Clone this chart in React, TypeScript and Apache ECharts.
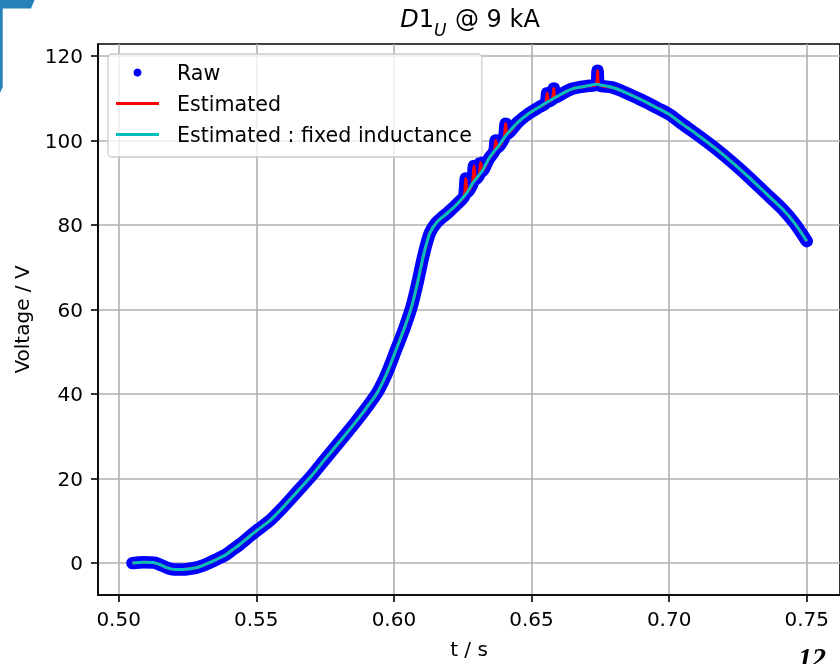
import React, { useEffect, useRef } from "react";
import * as echarts from "echarts";

// time axis (s)
const tValues = [
  0.505, 0.509, 0.513, 0.5155, 0.518, 0.5205, 0.5235, 0.528, 0.5305, 0.533, 0.536, 0.539, 0.5415, 0.544,
  0.5475, 0.55, 0.555, 0.56, 0.565, 0.57, 0.575, 0.581, 0.586, 0.59,
  0.594, 0.5975, 0.6005, 0.6037, 0.6065, 0.6086, 0.6104, 0.6118, 0.6132, 0.6155, 0.6175, 0.6194,
  0.623, 0.6255, 0.6261, 0.6267, 0.6285, 0.6291, 0.6297, 0.631, 0.6315, 0.6321,
  0.6345, 0.6365, 0.637, 0.6376, 0.64, 0.6406, 0.6412, 0.645, 0.649, 0.653,
  0.6552, 0.6557, 0.6562, 0.6576, 0.6581, 0.6586, 0.662, 0.665, 0.67, 0.6735,
  0.674, 0.6745, 0.6792, 0.684, 0.689, 0.6925, 0.696, 0.7, 0.7046, 0.71,
  0.7167, 0.723, 0.729, 0.735, 0.741, 0.7455, 0.75,
];

// Raw measured voltage (V)
const rawValues = [
  0.0, 0.2, 0.1, -0.5, -1.2, -1.5, -1.5, -1.1, -0.6, 0.1, 1.0, 2.0, 3.2, 4.4,
  6.3, 7.6, 10.1, 13.4, 17.0, 20.6, 24.6, 29.3, 33.3, 36.7,
  40.4, 45.0, 50.0, 55.4, 60.8, 66.4, 71.8, 75.5, 78.3, 80.6, 81.8, 82.8,
  85.0, 86.8, 91.0, 87.8, 89.8, 94.0, 90.8, 91.9, 94.8, 92.8,
  95.7, 97.5, 100.0, 98.3, 100.6, 104.0, 101.6, 104.3, 106.4, 108.0,
  108.9, 111.2, 109.3, 109.8, 112.3, 110.2, 111.4, 112.3, 112.9, 113.3,
  116.5, 113.2, 112.6, 111.4, 109.9, 108.8, 107.6, 106.2, 104.0, 101.5,
  98.2, 94.8, 91.3, 87.6, 83.9, 80.5, 76.2,
];

// Estimated voltage (V)
const estimatedValues = [
  0.0, 0.2, 0.1, -0.5, -1.2, -1.5, -1.5, -1.1, -0.6, 0.1, 1.0, 2.0, 3.2, 4.4,
  6.3, 7.6, 10.1, 13.4, 17.0, 20.6, 24.6, 29.3, 33.3, 36.7,
  40.4, 45.0, 50.0, 55.4, 60.8, 66.4, 71.8, 75.5, 78.3, 80.6, 81.8, 82.8,
  85.0, 86.8, 91.0, 87.8, 89.8, 94.0, 90.8, 91.9, 94.8, 92.8,
  95.7, 97.5, 100.0, 98.3, 100.6, 104.0, 101.6, 104.3, 106.4, 108.0,
  108.9, 111.2, 109.3, 109.8, 112.3, 110.2, 111.4, 112.3, 112.9, 113.3,
  116.5, 113.2, 112.6, 111.4, 109.9, 108.8, 107.6, 106.2, 104.0, 101.5,
  98.2, 94.8, 91.3, 87.6, 83.9, 80.5, 76.2,
];

// Estimated with fixed inductance (V)
const fixedValues = [
  0.0, 0.2, 0.1, -0.5, -1.2, -1.5, -1.5, -1.1, -0.6, 0.1, 1.0, 2.0, 3.2, 4.4,
  6.3, 7.6, 10.1, 13.4, 17.0, 20.6, 24.6, 29.3, 33.3, 36.7,
  40.4, 45.0, 50.0, 55.4, 60.8, 66.4, 71.8, 75.5, 78.3, 80.6, 81.8, 82.8,
  85.0, 86.8, 87.3, 87.8, 89.8, 90.3, 90.8, 91.9, 92.3, 92.8,
  95.7, 97.5, 97.9, 98.3, 100.6, 101.1, 101.6, 104.3, 106.4, 108.0,
  108.9, 109.1, 109.3, 109.8, 110.0, 110.2, 111.4, 112.3, 112.9, 113.3,
  113.3, 113.2, 112.6, 111.4, 109.9, 108.8, 107.6, 106.2, 104.0, 101.5,
  98.2, 94.8, 91.3, 87.6, 83.9, 80.5, 76.2,
];

const xTicks = [0.5, 0.55, 0.6, 0.65, 0.7, 0.75];
const yTicks = [0, 20, 40, 60, 80, 100, 120];
const seriesNames = ["Raw", "Estimated", "Estimated : fixed inductance"];

export default function App() {
  const ref = useRef<HTMLDivElement>(null);

  useEffect(() => {
    const chart = echarts.init(ref.current as HTMLDivElement, null, { renderer: "svg" });
    const font = "DejaVu Sans";
    const pairs = (vals: number[]) => tValues.map((t, i) => [t, vals[i]]);
    const lineIcon = "path://M0,0L43,0L43,2.8L0,2.8Z";
    const isTick = (arr: number[], v: number) => arr.some((a) => Math.abs(a - v) < 1e-6);

    chart.setOption({
      animation: false,
      textStyle: { fontFamily: font },
      title: {
        text: "{i|D}{n|1}{s|U}{n| @ 9 kA}",
        left: 470,
        top: 7,
        textAlign: "center",
        padding: 0,
        textStyle: {
          fontWeight: "normal",
          rich: {
            i: { fontFamily: font, fontStyle: "italic", fontWeight: "normal", fontSize: 24, lineHeight: 24, verticalAlign: "top", color: "#000" },
            n: { fontFamily: font, fontWeight: "normal", fontSize: 24, lineHeight: 24, verticalAlign: "top", color: "#000" },
            s: { fontFamily: font, fontStyle: "italic", fontWeight: "normal", fontSize: 17, lineHeight: 17, verticalAlign: "top", padding: [14, 1, 0, 0], color: "#000" },
          },
        },
      },
      grid: {
        left: 98,
        top: 44,
        width: 744,
        height: 553,
        show: true,
        borderColor: "#000",
        borderWidth: 1.6,
        backgroundColor: "transparent",
      },
      legend: {
        orient: "vertical",
        left: 108,
        top: 54,
        padding: [8, 10, 12, 8],
        itemWidth: 43,
        itemHeight: 8,
        itemGap: 10,
        backgroundColor: "rgba(255,255,255,0.8)",
        borderColor: "#cccccc",
        borderWidth: 1.3,
        borderRadius: 4,
        selectedMode: false,
        itemStyle: { borderWidth: 0 },
        textStyle: { fontSize: 20.6, lineHeight: 20, color: "#000", fontFamily: font, padding: [0, 0, 0, 13] },
        data: [
          { name: seriesNames[0], icon: "circle" },
          { name: seriesNames[1], icon: lineIcon },
          { name: seriesNames[2], icon: lineIcon },
        ],
      },
      xAxis: {
        type: "value",
        min: 0.4925,
        max: 0.76207,
        splitNumber: 5,
        minInterval: 0.05,
        maxInterval: 0.05,
        name: "t / s",
        nameLocation: "middle",
        nameGap: 44,
        nameTextStyle: { fontSize: 20, color: "#000", fontFamily: font },
        axisLine: { show: true, onZero: false, lineStyle: { color: "#000", width: 1.6 } },
        axisTick: { show: true, inside: false, length: 7, customValues: xTicks, lineStyle: { color: "#000", width: 1.6 } },
        axisLabel: {
          customValues: xTicks,
          margin: 14,
          fontSize: 20,
          color: "#000",
          fontFamily: font,
          formatter: (v: number) => (isTick(xTicks, v) ? v.toFixed(2) : ""),
        },
        splitLine: { show: true, lineStyle: { color: "#b0b0b0", width: 1.6 } },
      },
      yAxis: {
        type: "value",
        min: -7.55,
        max: 122.85,
        splitNumber: 6,
        minInterval: 20,
        maxInterval: 20,
        name: "Voltage / V",
        nameLocation: "middle",
        nameGap: 66,
        nameRotate: 90,
        nameTextStyle: { fontSize: 20, color: "#000", fontFamily: font },
        axisLine: { show: true, onZero: false, lineStyle: { color: "#000", width: 1.6 } },
        axisTick: { show: true, inside: false, length: 7, customValues: yTicks, lineStyle: { color: "#000", width: 1.6 } },
        axisLabel: {
          customValues: yTicks,
          margin: 15,
          fontSize: 20,
          color: "#000",
          fontFamily: font,
          formatter: (v: number) => (isTick(yTicks, v) ? String(Math.round(v)) : ""),
        },
        splitLine: { show: true, lineStyle: { color: "#b0b0b0", width: 1.6 } },
      },
      series: [
        {
          name: seriesNames[0],
          type: "line",
          data: pairs(rawValues),
          symbol: "circle",
          showSymbol: false,
          smooth: 0.25,
          color: "#0000ff",
          lineStyle: { width: 12.5, color: "#0000ff", cap: "round", join: "round" },
          emphasis: { disabled: true },
          silent: true,
        },
        {
          name: seriesNames[1],
          type: "line",
          data: pairs(estimatedValues),
          symbol: "circle",
          showSymbol: false,
          smooth: 0.25,
          color: "#ff0000",
          lineStyle: { width: 3, color: "#ff0000", join: "round" },
          emphasis: { disabled: true },
          silent: true,
        },
        {
          name: seriesNames[2],
          type: "line",
          data: pairs(fixedValues),
          symbol: "circle",
          showSymbol: false,
          smooth: 0.25,
          color: "#00bfbf",
          lineStyle: { width: 3, color: "#00bfbf", join: "round" },
          emphasis: { disabled: true },
          silent: true,
        },
      ],
      graphic: [
        {
          type: "polygon",
          z: 100,
          shape: { points: [[0, 0], [34.5, 0], [31, 8.5], [2.7, 8.5], [2.7, 87], [0, 93]] },
          style: { fill: "#2581b8" },
        },
        {
          type: "text",
          z: 100,
          x: 798,
          y: 643,
          style: {
            text: "12",
            fontSize: 28,
            fontStyle: "italic",
            fontWeight: "bold",
            fontFamily: "Liberation Serif",
            fill: "#000",
            verticalAlign: "top",
          },
        },
      ],
    });

    return () => chart.dispose();
  }, []);

  return (
    <div
      ref={ref}
      style={{ position: "fixed", left: 0, top: 0, width: 840, height: 664 }}
    />
  );
}
